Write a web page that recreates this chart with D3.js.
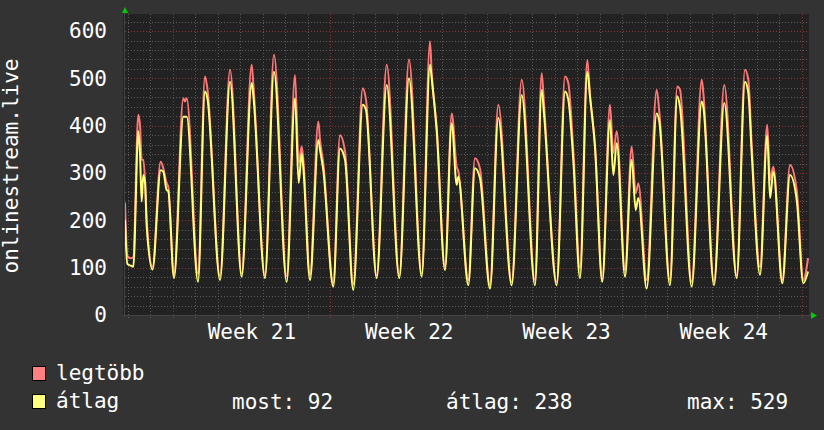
<!DOCTYPE html>
<html>
<head>
<meta charset="utf-8">
<script src="https://cdn.jsdelivr.net/npm/d3@7"></script>
<style>
body { margin: 0; background: #333333; }
svg { display: block; }
text { font-family: "DejaVu Sans Mono", monospace; }
</style>
</head>
<body>
<svg width="824" height="430"></svg>
<script>
// hours since the left edge of the graph, with the two series read at those moments
var hours = [
  0, 2.5, 6.4, 8.9,
  14.2, 16.0, 17.8, 19.5, 21.4, 23.2, 29.4,
  38.1, 40.9, 44.5, 46.2, 52.3,
  62.3, 64.1, 65.9, 78.0,
  85.4, 87.9, 101.5,
  112.2, 124.6,
  135.3, 137.0, 149.5,
  159.1, 172.7,
  181.6, 185.5, 188.7, 190.4, 197.6,
  206.5, 208.3, 211.8, 222.5,
  229.6, 235.0, 243.8,
  253.9, 257.4, 268.8,
  279.5, 293.0,
  303.3, 316.9,
  325.8, 327.6, 332.9, 341.8,
  349.0, 354.3, 356.0, 366.7,
  373.8, 379.2, 389.9,
  398.7, 413.0,
  423.7, 437.9,
  445.1, 447.5, 461.1,
  470.0, 473.5, 478.8, 486.0,
  493.8, 496.7, 502.0, 509.8,
  518.0, 521.6, 525.2, 534.1,
  541.2, 545.5, 548.3, 557.2,
  567.9, 570.7, 582.1,
  589.9, 592.8, 605.3,
  616.0, 617.7, 629.1,
  640.1, 653.4,
  662.2, 665.8, 669.4, 678.3,
  686.0, 689.0, 692.5, 702.1,
  710.3, 717.5, 724.5,
  729.6
];
var legtobb = [
  237, 125, 120, 122,
  423, 402, 328, 328, 285, 201, 102,
  324, 310, 278, 271, 84,
  458, 451, 458, 87,
  504, 480, 82,
  518, 87,
  529, 490, 84,
  550, 82,
  507, 321, 356, 330, 85,
  409, 370, 321, 67,
  380, 346, 65,
  479, 455, 84,
  529, 84,
  540, 87,
  578, 510, 398, 102,
  426, 313, 304, 74,
  331, 309, 63,
  444, 70,
  497, 74,
  511, 448, 70,
  504, 490, 350, 99,
  539, 462, 359, 74,
  444, 342, 388, 95,
  356, 257, 278, 74,
  476, 430, 74,
  483, 476, 70,
  497, 470, 70,
  486, 84,
  518, 497, 360, 101,
  402, 285, 313, 74,
  317, 264, 74,
  120
];
var atlag = [
  201, 108, 104, 102,
  388, 342, 240, 296, 279, 187, 96,
  306, 303, 264, 262, 78,
  419, 419, 419, 70,
  472, 459, 74,
  493, 81,
  490, 465, 78,
  514, 70,
  458, 279, 342, 313, 74,
  370, 349, 306, 60,
  352, 328, 53,
  444, 433, 78,
  486, 78,
  500, 81,
  529, 500, 390, 95,
  405, 275, 292, 63,
  310, 289, 56,
  416, 63,
  465, 63,
  476, 426, 63,
  472, 455, 328, 78,
  514, 462, 355, 70,
  412, 296, 363, 81,
  328, 222, 247, 56,
  426, 409, 63,
  462, 440, 60,
  451, 440, 63,
  448, 78,
  493, 469, 342, 85,
  380, 247, 303, 67,
  296, 243, 67,
  92
];
var yTicks = [0, 100, 200, 300, 400, 500, 600];
var legendNames = ['legtöbb', 'átlag'];
var legendStats = ['most: 92', 'átlag: 238', 'max: 529'];

function main() {
  var svg = d3.select('svg'),
      left = 125, right = 809, plotTop = 14, plotBottom = 315;

  var start = new Date(2023, 4, 19, 21, 0);
  var end = new Date(+start + 730.6 * 3600e3);
  var when = function(h) { return new Date(+start + h * 3600e3); };

  var x = d3.scaleTime().domain([start, end]).range([left, right]);
  var y = d3.scaleLinear().domain([0, 636]).range([plotBottom, plotTop]);

  // plot background
  svg.append('rect')
    .attr('x', left - 2).attr('y', plotTop)
    .attr('width', right - left + 2).attr('height', plotBottom - plotTop + 1)
    .attr('fill', '#222222');

  // horizontal grid
  var minorY = d3.range(20, 640, 20).filter(function(v) { return v % 100 != 0; });
  var hline = function(vals, color) {
    svg.append('g').selectAll('line').data(vals).enter().append('line')
      .attr('x1', left).attr('x2', right)
      .attr('y1', function(d) { return Math.round(y(d)) + 0.5; })
      .attr('y2', function(d) { return Math.round(y(d)) + 0.5; })
      .attr('stroke', color).attr('stroke-dasharray', '1,2');
  };
  hline(minorY, '#5a5a5a');
  hline(yTicks.slice(1), '#8a3535');

  // vertical grid: days, weeks in red
  var days = x.ticks(d3.timeDay);
  var isMonday = function(d) { return d.getDay() == 1; };
  svg.append('g').selectAll('line').data(days).enter().append('line')
    .attr('x1', function(d) { return Math.round(x(d)) + 0.5; })
    .attr('x2', function(d) { return Math.round(x(d)) + 0.5; })
    .attr('y1', plotTop).attr('y2', plotBottom + 3)
    .attr('stroke', function(d) { return isMonday(d) ? '#8a3535' : '#5a5a5a'; })
    .attr('stroke-dasharray', '1,2');

  // axis lines
  svg.append('line').attr('x1', left - 2).attr('x2', right + 3)
    .attr('y1', plotBottom + 0.5).attr('y2', plotBottom + 0.5).attr('stroke', '#444444');
  svg.append('line').attr('x1', left - 0.5).attr('x2', left - 0.5)
    .attr('y1', plotBottom + 2).attr('y2', plotTop - 2).attr('stroke', '#444444');

  // arrows
  svg.append('path').attr('d', 'M122,13 L128,13 L125,7 Z').attr('fill', '#00cc00');
  svg.append('path').attr('d', 'M811,312 L811,319 L817,315.5 Z').attr('fill', '#00cc00');

  // y labels
  var yAxis = svg.append('g')
    .attr('transform', 'translate(' + left + ',0)')
    .call(d3.axisLeft(y).tickValues(yTicks).tickSize(0).tickPadding(18));
  yAxis.select('.domain').remove();
  yAxis.attr('font-size', 21).attr('font-family', '"DejaVu Sans Mono", monospace').attr('color', '#ffffff');

  // week labels centred in each week
  var weeks = d3.timeMonday.range(start, end).map(function(d) { return d3.timeHour.offset(d, 84); })
    .filter(function(d) { return d < end; });
  var xAxis = svg.append('g')
    .attr('transform', 'translate(0,' + plotBottom + ')')
    .call(d3.axisBottom(x).tickValues(weeks).tickFormat(d3.timeFormat('Week %V')).tickSize(0).tickPadding(9));
  xAxis.select('.domain').remove();
  xAxis.attr('font-size', 21).attr('font-family', '"DejaVu Sans Mono", monospace').attr('color', '#ffffff');

  // vertical title
  svg.append('text')
    .attr('transform', 'translate(18,166) rotate(-90)')
    .attr('text-anchor', 'middle')
    .attr('font-size', 21).attr('fill', '#ffffff')
    .text('onlinestream.live');

  // lines
  svg.append('clipPath').attr('id', 'plot').append('rect')
    .attr('x', left).attr('y', plotTop).attr('width', right - left).attr('height', plotBottom - plotTop);
  var line = function(vals) {
    return d3.line()
      .x(function(d, i) { return x(when(hours[i])); })
      .y(function(d) { return y(d); })
      .curve(d3.curveMonotoneX)(vals);
  };
  svg.append('path').attr('d', line(legtobb)).attr('clip-path', 'url(#plot)')
    .attr('fill', 'none').attr('stroke', '#ff7878').attr('stroke-width', 2).attr('stroke-linejoin', 'round');
  svg.append('path').attr('d', line(atlag)).attr('clip-path', 'url(#plot)')
    .attr('fill', 'none').attr('stroke', '#ffff78').attr('stroke-width', 2).attr('stroke-linejoin', 'round');

  // legend
  var legColors = ['#ff8080', '#ffff80'];
  var leg = svg.append('g').selectAll('g').data(legendNames).enter().append('g')
    .attr('transform', function(d, i) { return 'translate(0,' + (i * 28) + ')'; });
  leg.append('rect').attr('x', 32.5).attr('y', 366.5).attr('width', 13).attr('height', 14)
    .attr('fill', function(d, i) { return legColors[i]; }).attr('stroke', '#000000');
  leg.append('text').attr('x', 56).attr('y', 380).attr('font-size', 21).attr('fill', '#ffffff')
    .text(function(d) { return d; });

  var statX = [232, 446, 687];
  svg.append('g').selectAll('text').data(legendStats).enter().append('text')
    .attr('x', function(d, i) { return statX[i]; }).attr('y', 408.5)
    .attr('font-size', 21).attr('fill', '#ffffff')
    .text(function(d) { return d; });
}
main();
</script>
</body>
</html>
